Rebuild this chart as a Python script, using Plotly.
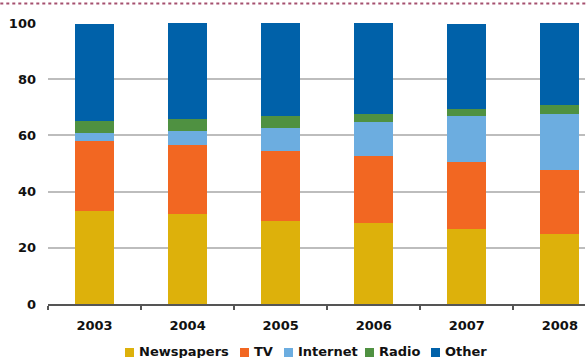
import plotly.graph_objects as go

years = ["2003", "2004", "2005", "2006", "2007", "2008"]
newspapers = [33.0, 32.0, 29.6, 28.8, 26.7, 24.9]
tv = [25.0, 24.6, 24.8, 24.0, 23.8, 22.9]
internet = [3.0, 5.0, 8.2, 12.0, 16.5, 19.8]
radio = [4.0, 4.2, 4.4, 2.9, 2.4, 3.2]
other = [34.5, 34.2, 33.0, 32.3, 30.2, 29.2]

names = ["Newspapers", "TV", "Internet", "Radio", "Other"]
colors = ["#DDB10B", "#F26722", "#6CADE0", "#4F9141", "#0061A9"]
values = [newspapers, tv, internet, radio, other]

W, H = 588, 358
ML, MR, MT, MB = 48, 3, 23, 54
PW, PH = W - ML - MR, H - MT - MB

def px_x(px):
    return (px - ML) / PW

def px_y(py):
    return (H - MB - py) / PH

fig = go.Figure()
for name, vals, col in zip(names, values, colors):
    fig.add_trace(go.Bar(x=years, y=vals, name=name, marker=dict(color=col, line=dict(width=0)),
                         width=0.42, showlegend=False))

FAM = "DejaVu Sans"
font = dict(family=FAM, size=13, color="#111111", weight="bold")

# custom legend (compact, like the reference)
legend_square_x = [125, 240, 284, 365, 431]
for nm, col, sx in zip(names, colors, legend_square_x):
    fig.add_shape(type="rect", xref="paper", yref="paper",
                  x0=px_x(sx), x1=px_x(sx + 9), y0=px_y(357), y1=px_y(348),
                  fillcolor=col, line=dict(width=0))
    fig.add_annotation(xref="paper", yref="paper", x=px_x(sx + 12), y=px_y(352),
                       xanchor="left", yanchor="middle", text=nm, showarrow=False,
                       font=font)

fig.update_layout(
    barmode="stack",
    width=W, height=H,
    margin=dict(l=ML, r=MR, t=MT, b=MB, autoexpand=False),
    plot_bgcolor="white", paper_bgcolor="white",
    font=font,
    xaxis=dict(range=[-0.5, 5.27], showgrid=False, showline=True, linecolor="#555555", linewidth=2,
               ticks="outside", tickson="boundaries", ticklen=4, tickcolor="#555555", tickwidth=2,
               tickfont=font, ticklabelstandoff=8),
    yaxis=dict(range=[0, 100], dtick=20, showgrid=True, gridcolor="#BDBDBD", gridwidth=2,
               zeroline=False, showline=False, tickfont=font, ticklabelstandoff=11),
)
fig.add_shape(type="line", xref="paper", yref="paper", x0=-0.1, x1=1.02, y0=px_y(3.5), y1=px_y(3.5),
              line=dict(color="#A5506F", width=2, dash="dot"))
fig.write_html("out.html")
